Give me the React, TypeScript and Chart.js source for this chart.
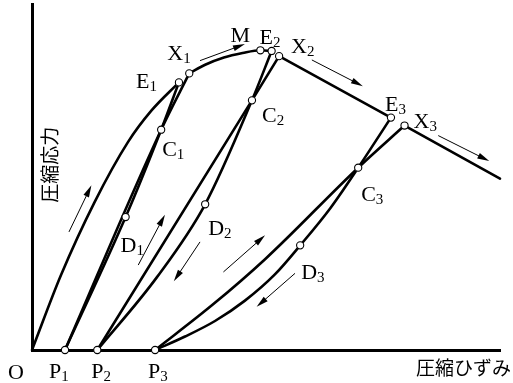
import React, { useEffect, useRef } from "react";
import { Chart, registerables } from "chart.js";

Chart.register(...registerables);

// Strain (x) and stress (y) are in relative units, 0–100 on both axes.

// Named points on the loading history
const pointNames = ["P1", "P2", "P3", "E1", "X1", "C1", "D1", "M", "E2", "X2", "C2", "D2", "E3", "X3", "C3", "D3"];
const pointStrain = [7.05, 13.95, 26.3, 31.4, 33.6, 27.6, 20.0, 48.8, 51.2, 52.8, 47.0, 37.0, 76.7, 79.6, 69.7, 57.3];
const pointStress = [0, 0, 0, 77.5, 80.1, 63.8, 38.5, 86.8, 86.6, 85.1, 72.3, 42.2, 67.3, 65.0, 52.8, 30.3];

// Envelope curve
const envelopeToE1 = [[0, 0], [6.2, 21.7], [13.4, 42.9], [20.5, 60.2], [25.5, 69.3], [31.4, 77.5]];
const envelopePeak = [[33.6, 80.1], [37.0, 82.6], [41.0, 84.7], [45.0, 86.0], [48.8, 86.8], [51.2, 86.6]];
const envelopeDescent1 = [[52.8, 85.1], [76.7, 67.3]];
const envelopeDescent2 = [[79.6, 65.0], [100, 49.6]];

// Unloading / reloading loops
const unload1 = [[7.05, 0], [20.0, 38.5], [27.6, 63.8], [31.4, 77.5]];
const reload1 = [[7.05, 0], [27.6, 63.8], [33.6, 80.1]];
const unload2 = [[13.95, 0], [26.7, 21.1], [37.0, 42.2], [47.0, 72.3], [51.2, 86.6]];
const reload2 = [[13.95, 0], [47.0, 72.3], [52.8, 85.1]];
const unload3 = [[26.3, 0], [32.7, 3.9], [39.1, 8.4], [45.5, 14.3], [51.9, 21.9], [57.3, 30.3], [63.7, 41.0], [69.7, 52.8], [76.7, 67.3]];
const reload3 = [[26.3, 0], [38.5, 13.0], [49.8, 26.3], [69.7, 52.8], [79.6, 65.0]];

// Direction arrows: [fromStrain, fromStress, toStrain, toStress]
const arrowSegments = [
  [7.9, 34.2, 12.7, 47.7],
  [35.9, 83.8, 45.5, 88.6],
  [59.8, 84.0, 70.7, 76.4],
  [86.8, 62.1, 97.7, 54.7],
  [22.7, 24.6, 28.4, 39.2],
  [35.9, 31.3, 30.3, 19.9],
  [40.9, 22.6, 49.8, 33.2],
  [56.2, 22.2, 48.0, 12.5],
];

const xAxisTitle = "圧縮ひずみ";
const yAxisTitle = "圧縮応力";

// Label placement relative to each point, in pixels (left edge, baseline)
const labelOffsets: Record<string, [number, number]> = {
  O: [-24, 29],
  P1: [-16, 28],
  P2: [-6, 28],
  P3: [-7, 28],
  E1: [-43, 6],
  X1: [-22, -13],
  M: [-30, -8],
  E2: [-12, -7],
  X2: [12, -3],
  E3: [-6, -7],
  X3: [9, 2],
  C1: [1, 26],
  C2: [10, 22],
  C3: [3, 33],
  D1: [-5, 35],
  D2: [3, 31],
  D3: [1, 34],
};

const toXY = (arr: number[][]) => arr.map(([x, y]) => ({ x, y }));

const SERIF = '"Liberation Serif", "Times New Roman", serif';
const CJK = '"Noto Sans CJK JP", "Noto Sans", sans-serif';

const annotatePlugin = {
  id: "annotate",
  afterDatasetsDraw(chart: any) {
    const { ctx } = chart;
    const xs = chart.scales.x;
    const ys = chart.scales.y;
    ctx.save();
    ctx.fillStyle = "#000";
    ctx.strokeStyle = "#000";

    // arrows
    for (const [x1, y1, x2, y2] of arrowSegments) {
      const ax = xs.getPixelForValue(x1);
      const ay = ys.getPixelForValue(y1);
      const bx = xs.getPixelForValue(x2);
      const by = ys.getPixelForValue(y2);
      const ang = Math.atan2(by - ay, bx - ax);
      const headLen = 12;
      const headHalf = 3;
      ctx.lineWidth = 1;
      ctx.beginPath();
      ctx.moveTo(ax, ay);
      ctx.lineTo(bx - Math.cos(ang) * headLen * 0.8, by - Math.sin(ang) * headLen * 0.8);
      ctx.stroke();
      ctx.beginPath();
      ctx.moveTo(bx, by);
      ctx.lineTo(
        bx - Math.cos(ang) * headLen - Math.sin(ang) * headHalf,
        by - Math.sin(ang) * headLen + Math.cos(ang) * headHalf
      );
      ctx.lineTo(
        bx - Math.cos(ang) * headLen + Math.sin(ang) * headHalf,
        by - Math.sin(ang) * headLen - Math.cos(ang) * headHalf
      );
      ctx.closePath();
      ctx.fill();
    }

    // point labels with subscripts
    const drawLabel = (name: string, px: number, py: number) => {
      const off = labelOffsets[name];
      if (!off) return;
      const main = name.replace(/\d+$/, "");
      const sub = name.slice(main.length);
      const lx = px + off[0];
      const ly = py + off[1];
      ctx.textBaseline = "alphabetic";
      ctx.textAlign = "left";
      ctx.font = `22px ${SERIF}`;
      ctx.fillText(main, lx, ly);
      const w = ctx.measureText(main).width;
      if (sub) {
        ctx.font = `15px ${SERIF}`;
        ctx.fillText(sub, lx + w, ly + 3);
      }
    };
    drawLabel("O", xs.getPixelForValue(0), ys.getPixelForValue(0));
    pointNames.forEach((n, i) => {
      drawLabel(n, xs.getPixelForValue(pointStrain[i]), ys.getPixelForValue(pointStress[i]));
    });

    // axis titles
    ctx.font = `19px ${CJK}`;
    ctx.textBaseline = "middle";
    ctx.textAlign = "right";
    ctx.fillText(xAxisTitle, chart.width - 2, chart.chartArea.bottom + 18);

    ctx.save();
    ctx.translate(chart.chartArea.left + 18, chart.chartArea.top + 160);
    ctx.rotate(-Math.PI / 2);
    ctx.textAlign = "center";
    ctx.fillText(yAxisTitle, 0, 0);
    ctx.restore();

    ctx.restore();
  },
};

function App() {
  const canvasRef = useRef<HTMLCanvasElement | null>(null);

  useEffect(() => {
    const canvas = canvasRef.current;
    if (!canvas) return;

    const curve = (pts: number[][], smooth: boolean) => ({
      data: toXY(pts),
      showLine: true,
      borderColor: "#000",
      borderWidth: 2.6,
      borderJoinStyle: "round" as const,
      borderCapStyle: "round" as const,
      pointRadius: 0,
      pointHoverRadius: 0,
      tension: 0,
      cubicInterpolationMode: smooth ? ("monotone" as const) : ("default" as const),
      order: 1,
      clip: false as const,
    });

    const markers = {
      data: pointStrain.map((x, i) => ({ x, y: pointStress[i] })),
      showLine: false,
      pointRadius: 3.6,
      pointHoverRadius: 3.6,
      pointBackgroundColor: "#fff",
      pointBorderColor: "#000",
      pointBorderWidth: 1.1,
      order: 0,
      clip: false as const,
    };

    const chart = new Chart(canvas, {
      type: "scatter",
      data: {
        datasets: [
          markers,
          curve(envelopeToE1, true),
          curve(envelopePeak, true),
          curve(envelopeDescent1, false),
          curve(envelopeDescent2, false),
          curve(unload1, true),
          curve(reload1, true),
          curve(unload2, true),
          curve(reload2, false),
          curve(unload3, true),
          curve(reload3, true),
        ] as any,
      },
      options: {
        animation: false,
        responsive: false,
        devicePixelRatio: 1,
        events: [],
        layout: { padding: { left: 32, right: 13, top: 4, bottom: 33 } },
        plugins: {
          legend: { display: false },
          tooltip: { enabled: false },
        },
        scales: {
          x: {
            type: "linear",
            min: 0,
            max: 100,
            grid: { display: false, drawTicks: false },
            ticks: { display: false },
            border: { display: true, color: "#000", width: 3 },
          },
          y: {
            type: "linear",
            min: 0,
            max: 100,
            grid: { display: false, drawTicks: false },
            ticks: { display: false },
            border: { display: true, color: "#000", width: 3 },
          },
        },
      },
      plugins: [annotatePlugin],
    });

    return () => chart.destroy();
  }, []);

  return (
    <div style={{ position: "absolute", left: 0, top: 0, width: 513, height: 383, background: "#fff" }}>
      <canvas ref={canvasRef} width={513} height={383} style={{ width: 513, height: 383, display: "block" }} />
    </div>
  );
}

export default App;
